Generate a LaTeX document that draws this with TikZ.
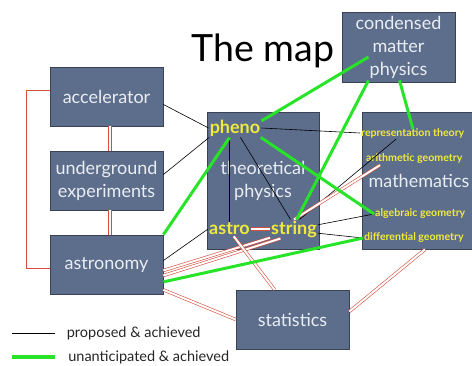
\documentclass[tikz,border=0pt]{standalone}
\usepackage{fontspec}
\setmainfont{Lato}
\usetikzlibrary{calc}

\definecolor{boxblue}{RGB}{92,110,140}
\definecolor{boxedge}{RGB}{58,66,84}
\definecolor{boxtext}{RGB}{234,237,242}
\definecolor{labyellow}{RGB}{240,234,60}
\definecolor{linkgreen}{RGB}{40,228,40}
\definecolor{linkred}{RGB}{215,78,62}

\begin{document}
\begin{tikzpicture}[x=1pt, y=-1pt,
        field/.style = {rectangle, draw=boxedge, line width=0.8pt, fill=boxblue, text=boxtext, align=center,
                font=\fontsize{18}{23}\selectfont, minimum width=113pt, minimum height=59pt, inner sep=0pt},
        topic/.style = {text=labyellow, font=\bfseries\fontsize{18}{20}\selectfont, inner sep=1pt},
        subtopic/.style = {text=labyellow, font=\bfseries\fontsize{10.6}{12}\selectfont, inner sep=1pt, anchor=west},
        proposed/.style = {draw=black, line width=0.6pt},
        unexpected/.style = {draw=linkgreen, line width=3pt},
        planned/.style = {draw=linkred, double=white, double distance=2pt, line width=0.6pt}
        ]
        \useasboundingbox (0,0) rectangle (472,365);

        \node[font=\fontsize{37.5}{44}\selectfont, anchor=base] (title) at (263,61) {The map};

        % boxes
        \node[field, minimum height=70pt] (cmp) at (398.5,47) {condensed\\matter\\physics};
        \node[field] (acc) at (106.5,96.5) {accelerator};
        \node[field] (und) at (106.5,180.5) {underground\\experiments};
        \node[field] (ast) at (106.5,264.5) {astronomy};
        \node[field, minimum width=112pt, minimum height=137pt] (theo) at (263,180.5) {theoretical\\physics};
        \node[field, minimum width=114pt, minimum height=137pt] (math) at (419,180.5) {mathematics};
        \node[field] (stat) at (292.5,319.5) {statistics};

        % yellow labels
        \node[topic] (pheno) at (235,128) {pheno};
        \node[topic] (astro) at (229.5,229) {astro};
        \node[topic] (string) at (294,229) {string};
        \node[subtopic] (rep) at (360,133) {representation theory};
        \node[subtopic] (arith) at (365,159) {arithmetic geometry};
        \node[subtopic] (alg) at (374,214) {algebraic geometry};
        \node[subtopic] (diff) at (363,238) {differential geometry};

        % proposed & achieved
        \draw[proposed] (acc.-8) -- (pheno.west);
        \draw[proposed] (und.6) -- (pheno.200);
        \draw[proposed] (ast.4) -- (astro.west);
        \draw[proposed] (pheno.east) -- (rep.west);
        \draw[proposed] (astro.north) -- (astro.north |- pheno.south);
        \draw[proposed] (pheno.-60) -- (string.110);
        \draw[proposed] (string.60) -- (rep.200);
        \draw[proposed] (string.10) -- (alg.west);
        \draw[proposed] (string.-10) -- (diff.west);

        % the red double links
        \draw[planned] (acc.175) -- ++(-22,0) |- (ast.183);
        \draw[planned] ([xshift=3.5pt]acc.south) -- ([xshift=3.5pt]und.north);
        \draw[planned] ([xshift=3.5pt]und.south) -- ([xshift=3.5pt]ast.north);
        \draw[planned] (astro.east) -- (string.west);
        \draw[planned] (ast.-6) -- (string.200);
        \draw[planned] (ast.-11) -- (string.215);
        \draw[planned] (astro.-60) -- (stat.121);
        \draw[planned] (ast.-24) -- (stat.west);
        \draw[planned] (string.north) -- ($(arith.south west)+(15,0)$);
        \draw[planned] (stat.8) -- ([xshift=6pt]math.south);

        % unanticipated & achieved
        \draw[unexpected] (pheno.15) -- ($(cmp)+(-30,10)$);
        \draw[unexpected] ($(cmp.south)+(-30,-2)$) -- (string.75);
        \draw[unexpected] ($(cmp.south)+(1,-2)$) -- ($(rep.north west)+(53,2)$);
        \draw[unexpected] (pheno.-120) -- (ast.north east);
        \draw[unexpected] (pheno.-20) -- (alg.west);
        \draw[unexpected] (ast.-17) -- (diff.west);

        % legend
        \coordinate (kp) at (12,333);
        \coordinate (ku) at (12,357);
        \draw[proposed, line width=1pt] (kp) -- ++(43,0) node[anchor=west, xshift=8pt, font=\fontsize{14.5}{16}\selectfont, text=black!85] (keyp) {proposed \& achieved};
        \draw[unexpected, line width=4pt] (ku) -- ++(43,0) node[anchor=west, xshift=8pt, font=\fontsize{14.5}{16}\selectfont, text=black!85] (keyu) {unanticipated \& achieved};
\end{tikzpicture}
\end{document}
